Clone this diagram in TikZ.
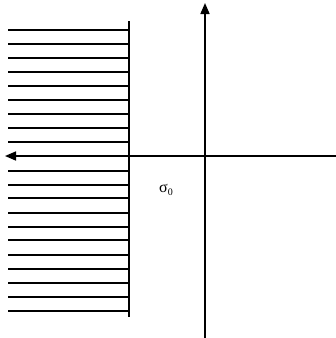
\documentclass[tikz,border=0pt]{standalone}
\usepackage{fontspec}
\setmainfont{Liberation Serif}
\usetikzlibrary{arrows.meta}
\tikzset{
  axis/.style={line width=1.6pt,-{Triangle[length=11pt,width=9pt]}},
  hatch/.style={line width=1.3pt},
  wall/.style={line width=1.6pt},
}
\begin{document}
\begin{tikzpicture}[x=1pt,y=-1pt]
\useasboundingbox (0,0) rectangle (336,338);
% axes
\coordinate (vbot) at (205,338);
\coordinate (vtop) at (205,3);
\coordinate (hright) at (336,156);
\coordinate (hleft) at (5,156);
\draw[axis] (vbot) -- (vtop);
\draw[axis] (hright) -- (hleft);
% wall
\coordinate (wtop) at (129,21);
\coordinate (wbot) at (129,317);
\draw[wall] (wtop) -- (wbot);
% hatch lines
\foreach \y [count=\k] in {30,44,58,72,86,100,114,128,142,171,185,198,213,227,240,255,269,283,297,311}{
    \coordinate (hl\k) at (8,\y);
    \coordinate (hr\k) at (129,\y);
    \draw[hatch] (hl\k) -- (hr\k);
}
% label
\node[inner sep=0pt] (sig) at (166,190) {\fontsize{16}{18}\selectfont σ\raisebox{-3pt}{\fontsize{10}{11}\selectfont 0}};
\end{tikzpicture}
\end{document}
